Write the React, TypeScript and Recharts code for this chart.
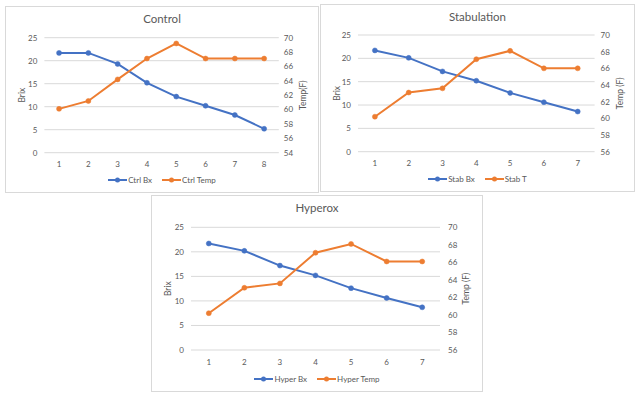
import React from 'react';
import { LineChart, Line, XAxis, YAxis, CartesianGrid, Legend } from 'recharts';

const ctrlDays = [1, 2, 3, 4, 5, 6, 7, 8];
const ctrlBx = [21.7, 21.7, 19.3, 15.2, 12.2, 10.2, 8.2, 5.2];
const ctrlTemp = [60.1, 61.2, 64.2, 67.1, 69.2, 67.1, 67.1, 67.1];

const stabDays = [1, 2, 3, 4, 5, 6, 7];
const stabBx = [21.7, 20.1, 17.2, 15.2, 12.6, 10.6, 8.6];
const stabT = [60.2, 63.1, 63.6, 67.1, 68.1, 66.0, 66.0];

const hyperDays = [1, 2, 3, 4, 5, 6, 7];
const hyperBx = [21.7, 20.2, 17.2, 15.2, 12.6, 10.6, 8.7];
const hyperTemp = [60.2, 63.1, 63.6, 67.1, 68.1, 66.1, 66.1];

const brixTicks = [0, 5, 10, 15, 20, 25];
const ctrlTempTicks = [54, 56, 58, 60, 62, 64, 66, 68, 70];
const tempTicks = [56, 58, 60, 62, 64, 66, 68, 70];

const BLUE = '#4472C4';
const ORANGE = '#ED7D31';
const GRID = '#D9D9D9';
const TXT = '#595959';
const FONT = 'Lato, "Noto Sans", sans-serif';
const LEGEND_H = 14;

type PanelCfg = {
  title: string;
  days: number[];
  bx: number[];
  temp: number[];
  bxName: string;
  tempName: string;
  tTicks: number[];
  tempLabel: string;
  box: { left: number; top: number; width: number; height: number };
  m: { top: number; right: number; bottom: number; left: number };
  leftW: number;
  rightW: number;
  xH: number;
  leftGap: number;
  rightGap: number;
  brixOff: number;
  tempOff: number;
};

const panels: PanelCfg[] = [
  {
    title: 'Control', days: ctrlDays, bx: ctrlBx, temp: ctrlTemp,
    bxName: 'Ctrl Bx', tempName: 'Ctrl Temp', tTicks: ctrlTempTicks, tempLabel: 'Temp(F)',
    box: { left: 5, top: 6, width: 314, height: 187 },
    m: { top: 31.7, right: 4, bottom: 6, left: 4 },
    leftW: 35.4, rightW: 36.2, xH: 20.3, leftGap: 7, rightGap: 5, brixOff: 13, tempOff: 24,
  },
  {
    title: 'Stabulation', days: stabDays, bx: stabBx, temp: stabT,
    bxName: 'Stab Bx', tempName: 'Stab T', tTicks: tempTicks, tempLabel: 'Temp (F)',
    box: { left: 320, top: 4, width: 315, height: 188 },
    m: { top: 31, right: 4, bottom: 6, left: 4 },
    leftW: 34, rightW: 36.4, xH: 20.3, leftGap: 7, rightGap: 6, brixOff: 13, tempOff: 25.4,
  },
  {
    title: 'Hyperox', days: hyperDays, bx: hyperBx, temp: hyperTemp,
    bxName: 'Hyper Bx', tempName: 'Hyper Temp', tTicks: tempTicks, tempLabel: 'Temp (F)',
    box: { left: 151, top: 195, width: 332, height: 197 },
    m: { top: 32.3, right: 4, bottom: 6, left: 4 },
    leftW: 36, rightW: 39, xH: 22, leftGap: 7, rightGap: 8, brixOff: 13, tempOff: 26,
  },
];

const vTitle = (text: string, off: number) => (props: any) => {
  const vb = props.viewBox || { x: 0, y: 0, width: 0, height: 0 };
  const x = vb.x + off;
  const y = vb.y + vb.height / 2;
  return (
    <text
      x={x}
      y={y}
      transform={`rotate(-90 ${x} ${y})`}
      textAnchor="middle"
      dominantBaseline="central"
      fill={TXT}
      fontSize={8.5}
      fontFamily={FONT}
    >
      {text}
    </text>
  );
};

const legendContent = (props: any) => {
  const payload = props.payload || [];
  return (
    <div
      style={{
        display: 'flex',
        justifyContent: 'center',
        alignItems: 'center',
        height: LEGEND_H,
        fontFamily: FONT,
        fontSize: 8,
        color: TXT,
      }}
    >
      {payload.map((e: any, i: number) => (
        <div key={i} style={{ display: 'flex', alignItems: 'center', marginLeft: i ? 10 : 0 }}>
          <svg width={19} height={6} style={{ display: 'block' }}>
            <line x1={0} y1={3} x2={19} y2={3} stroke={e.color} strokeWidth={2} />
            <circle cx={9.5} cy={3} r={2.5} fill={e.color} />
          </svg>
          <span style={{ marginLeft: 1, whiteSpace: 'nowrap' }}>{e.value}</span>
        </div>
      ))}
    </div>
  );
};

const tickStyle = { fill: TXT, fontSize: 8, fontFamily: FONT };

function Panel({ p }: { p: PanelCfg }) {
  const data = p.days.map((d, i) => ({ day: d, bx: p.bx[i], temp: p.temp[i] }));
  const plotW = p.box.width - p.m.left - p.m.right - p.leftW - p.rightW;
  const pad = plotW / p.days.length / 2;
  return (
    <>
      <div
        style={{
          position: 'absolute',
          left: p.box.left,
          top: p.box.top,
          width: p.box.width,
          height: p.box.height,
          border: `1px solid ${GRID}`,
          boxSizing: 'border-box',
          background: '#fff',
        }}
      />
      <div
        style={{
          position: 'absolute',
          left: p.box.left,
          top: p.box.top + 5,
          width: p.box.width,
          height: 16,
          lineHeight: '16px',
          textAlign: 'center',
          fontFamily: FONT,
          fontSize: 11.5,
          fontWeight: 400,
          color: TXT,
        }}
      >
        {p.title}
      </div>
      <div style={{ position: 'absolute', left: p.box.left, top: p.box.top }}>
        <LineChart width={p.box.width} height={p.box.height} data={data} margin={p.m}>
          <CartesianGrid yAxisId="bx" vertical={false} stroke={GRID} />
          <XAxis
            dataKey="day"
            tickLine={false}
            axisLine={false}
            tickSize={0}
            tickMargin={9}
            height={p.xH}
            padding={{ left: pad, right: pad }}
            tick={tickStyle}
            interval={0}
          />
          <YAxis
            yAxisId="bx"
            orientation="left"
            domain={[0, 25]}
            ticks={brixTicks}
            width={p.leftW}
            tickLine={false}
            axisLine={false}
            tickSize={0}
            tickMargin={p.leftGap}
            tick={tickStyle}
            interval={0}
            label={{ content: vTitle('Brix', p.brixOff) }}
          />
          <YAxis
            yAxisId="t"
            orientation="right"
            domain={[p.tTicks[0], p.tTicks[p.tTicks.length - 1]]}
            ticks={p.tTicks}
            width={p.rightW}
            tickLine={false}
            axisLine={false}
            tickSize={0}
            tickMargin={p.rightGap}
            tick={tickStyle}
            interval={0}
            label={{ content: vTitle(p.tempLabel, p.tempOff) }}
          />
          <Legend
            verticalAlign="bottom"
            align="center"
            height={LEGEND_H}
            content={legendContent}
            wrapperStyle={{ height: LEGEND_H }}
          />
          <Line
            yAxisId="bx"
            dataKey="bx"
            name={p.bxName}
            stroke={BLUE}
            strokeWidth={2}
            dot={{ r: 2.5, fill: BLUE, stroke: BLUE, strokeWidth: 0.5 }}
            isAnimationActive={false}
          />
          <Line
            yAxisId="t"
            dataKey="temp"
            name={p.tempName}
            stroke={ORANGE}
            strokeWidth={2}
            dot={{ r: 2.5, fill: ORANGE, stroke: ORANGE, strokeWidth: 0.5 }}
            isAnimationActive={false}
          />
        </LineChart>
      </div>
    </>
  );
}

export default function App() {
  return (
    <div
      style={{
        position: 'absolute',
        left: 0,
        top: 0,
        width: 640,
        height: 399,
        background: '#fff',
        overflow: 'hidden',
      }}
    >
      {panels.map((p) => (
        <Panel key={p.title} p={p} />
      ))}
    </div>
  );
}
